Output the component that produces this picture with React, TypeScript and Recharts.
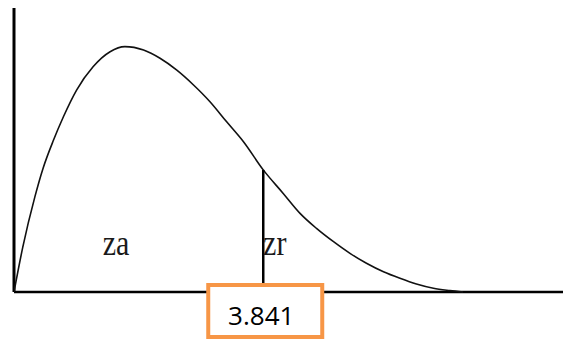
import { LineChart, Line, XAxis, YAxis, ReferenceLine, ReferenceDot } from "recharts";

// curve (x in arbitrary units, y as share of axis height)
const curveX = [0, 0.16, 0.38, 0.53, 0.72, 0.9, 1.14, 1.44, 1.75, 2.02, 2.36, 2.66, 2.96, 3.27, 3.57, 3.87, 4.18, 4.54, 4.9, 5.21, 5.51, 5.82, 6.12, 6.42, 6.73, 7.03, 7.33, 7.64, 7.94, 8.18];
const curveY = [0, 0.158, 0.335, 0.436, 0.535, 0.617, 0.711, 0.793, 0.846, 0.864, 0.852, 0.823, 0.782, 0.729, 0.67, 0.6, 0.529, 0.43, 0.348, 0.277, 0.224, 0.177, 0.136, 0.101, 0.071, 0.048, 0.028, 0.013, 0.005, 0];

const critX = 4.54;
const critY = 0.43;
const critLabel = "3.841";

const zoneLabels = ["za", "zr"];
const zoneX = [1.86, 4.75];
const zoneY = 0.13;

const data = curveX.map((x, i) => ({ x, y: curveY[i] }));

function ZoneText(text: string) {
  return (props: any) => {
    const vb = props.viewBox || {};
    const cx = vb.x + vb.width / 2;
    const cy = vb.y + vb.height / 2;
    return (
      <text
        transform={`translate(${cx},${cy}) scale(1,1.22)`}
        textAnchor="middle"
        fontFamily="'Liberation Serif', serif"
        fontSize={30}
        fill="#1a1a1a"
      >
        {text}
      </text>
    );
  };
}

function CritBox(props: any) {
  const vb = props.viewBox || {};
  const cx = vb.x + vb.width / 2;
  const cy = vb.y + vb.height / 2;
  return (
    <g>
      <rect x={cx - 55} y={cy - 7} width={114} height={52} fill="#fff" stroke="#f79646" strokeWidth={4} />
      <text
        x={cx - 2}
        y={cy + 33}
        textAnchor="middle"
        fontFamily="'Open Sans', sans-serif"
        fontSize={26}
        fill="#000"
      >
        {critLabel}
      </text>
    </g>
  );
}

export default function App() {
  return (
    <div style={{ position: "absolute", left: 0, top: 0, width: 563, height: 340, background: "#fff" }}>
      <LineChart width={563} height={340} data={data} margin={{ top: 8, right: 0, left: 14, bottom: 48 }}>
        <XAxis dataKey="x" type="number" domain={[0, 10]} allowDataOverflow hide />
        <YAxis type="number" domain={[0, 1]} hide />
        {/* axes drawn as reference lines so they sit on the plot edges */}
        <ReferenceLine x={0} stroke="#000" strokeWidth={3} ifOverflow="visible" />
        <ReferenceLine y={0} stroke="#000" strokeWidth={2.5} ifOverflow="visible" />
        <Line
          type="monotone"
          dataKey="y"
          stroke="#111"
          strokeWidth={1.6}
          dot={false}
          isAnimationActive={false}
        />
        <ReferenceLine
          segment={[
            { x: critX, y: 0 },
            { x: critX, y: critY },
          ]}
          stroke="#000"
          strokeWidth={2.5}
        />
        {zoneLabels.map((t, i) => (
          <ReferenceDot key={t} x={zoneX[i]} y={zoneY} r={2} fill="none" stroke="none" label={ZoneText(t)} />
        ))}
        <ReferenceDot x={critX} y={0} r={2} fill="none" stroke="none" label={CritBox} />
      </LineChart>
    </div>
  );
}
